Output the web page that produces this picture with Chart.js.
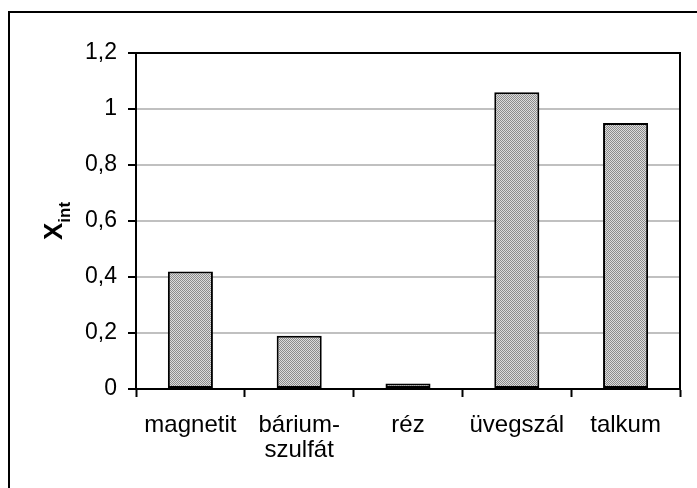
<!DOCTYPE html>
<html><head><meta charset="utf-8">
<script src="https://cdn.jsdelivr.net/npm/chart.js@4/dist/chart.umd.min.js"></script>
<style>html,body{margin:0;padding:0;background:#fff}#wrap{width:697px;height:488px;position:relative}</style>
</head><body><div id="wrap"><canvas id="c" width="697" height="488"></canvas></div>
<script>
const categories = ["magnetit", ["bárium-", "szulfát"], "réz", "üvegszál", "talkum"];
const xintValues = [0.42, 0.19, 0.02, 1.06, 0.95];
const yTickValues = [0, 0.2, 0.4, 0.6, 0.8, 1, 1.2];
const yTitleMain = "X";
const yTitleSub = "int";

function makePattern() {
  const p = document.createElement('canvas');
  p.width = 2; p.height = 2;
  const g = p.getContext('2d');
  g.fillStyle = '#dcdcdc'; g.fillRect(0,0,2,2);
  g.fillStyle = '#8c8c8c'; g.fillRect(0,0,1,1); g.fillRect(1,1,1,1);
  return document.getElementById('c').getContext('2d').createPattern(p, 'repeat');
}

const FONT = "'Liberation Sans', Arial, sans-serif";

const framePlugin = {
  id: 'frame',
  beforeDraw(chart) {
    const ctx = chart.ctx;
    ctx.save();
    ctx.fillStyle = '#fff';
    ctx.fillRect(0,0,chart.width,chart.height);
    ctx.strokeStyle = '#000'; ctx.lineWidth = 2;
    ctx.strokeRect(9, 12, 720, 520);
    ctx.restore();
  },
  afterDraw(chart) {
    const ctx = chart.ctx, a = chart.chartArea;
    ctx.save();
    ctx.strokeStyle = '#000'; ctx.lineWidth = 2;
    ctx.beginPath();
    ctx.moveTo(a.left, a.top); ctx.lineTo(a.right, a.top); ctx.lineTo(a.right, a.bottom);
    ctx.stroke();
    ctx.translate(62, 240);
    ctx.rotate(-Math.PI/2);
    ctx.fillStyle = '#000';
    ctx.textBaseline = 'alphabetic';
    ctx.textAlign = 'left';
    ctx.font = "bold 26px " + FONT;
    ctx.fillText(yTitleMain, 0, 0);
    const w = ctx.measureText(yTitleMain).width;
    ctx.font = "bold 17px " + FONT;
    ctx.fillText(yTitleSub, w, 8);
    ctx.restore();
  }
};

new Chart(document.getElementById('c'), {
  type: 'bar',
  data: {
    labels: categories,
    datasets: [{
      data: xintValues,
      backgroundColor: makePattern(),
      borderColor: '#000',
      borderWidth: 2,
      borderSkipped: false,
      categoryPercentage: 1,
      barPercentage: 0.414
    }]
  },
  options: {
    responsive: false,
    animation: false,
    devicePixelRatio: 1,
    layout: { padding: { left: 0, right: 17, top: 53, bottom: 0 } },
    plugins: { legend: { display: false }, tooltip: { enabled: false }, title: { display: false } },
    scales: {
      x: {
        afterFit(s) { s.height = 99; },
        grid: { drawOnChartArea: false, tickColor: '#000', tickLength: 8, tickWidth: 2, offset: true },
        border: { color: '#000', width: 2 },
        ticks: { color: '#000', font: { family: FONT, size: 24, lineHeight: 1.05 }, padding: 16, maxRotation: 0, autoSkip: false }
      },
      y: {
        min: 0, max: 1.2,
        afterFit(s) { s.width = 136; },
        afterBuildTicks(s) { s.ticks = yTickValues.map(v => ({ value: v })); },
        grid: { color: '#c0c0c0', lineWidth: 2, tickColor: '#000', tickLength: 8, tickWidth: 2 },
        border: { color: '#000', width: 2 },
        ticks: {
          color: '#000', padding: 11,
          font: { family: FONT, size: 23 },
          callback: v => String(Math.round(v*10)/10).replace('.', ',')
        }
      }
    }
  },
  plugins: [framePlugin]
});
</script>
</body></html>
